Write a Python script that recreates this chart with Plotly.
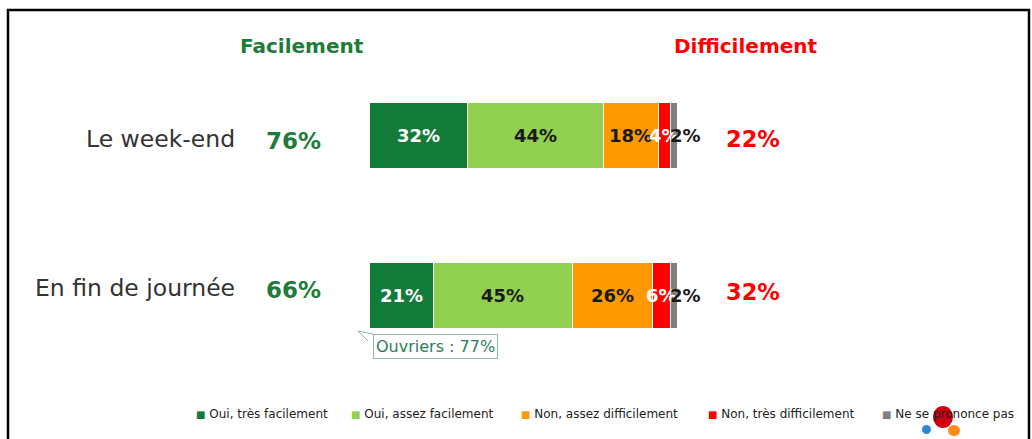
import plotly.graph_objects as go

# Données
categories = ['En fin de journée', 'Le week-end']
series = ['Oui, très facilement', 'Oui, assez facilement', 'Non, assez difficilement',
          'Non, très difficilement', 'Ne se prononce pas']
tres_facile = [21, 32]
assez_facile = [45, 44]
assez_difficile = [26, 18]
tres_difficile = [6, 4]
nsp = [2, 2]

couleurs = ['#137B3A', '#92D050', '#FF9900', '#FF0000', '#808080']
couleurs_txt = ['white', '#1a1a1a', '#1a1a1a', 'white', '#1a1a1a']
valeurs = [tres_facile, assez_facile, assez_difficile, tres_difficile, nsp]

W, H = 1032, 439
FONT = 'DejaVu Sans'


def py(pix):
    # position verticale en pixels -> coordonnée papier
    return 1 - pix / H


fig = go.Figure()
for nom, vals, col in zip(series, valeurs, couleurs):
    fig.add_trace(go.Bar(
        y=categories, x=vals, name=nom, orientation='h',
        marker=dict(color=col, line=dict(color='white', width=1)),
        width=0.41, hoverinfo='x+name', showlegend=False,
    ))

annotations = []
# position (pixels) des libellés de ligne : fin de journée, week-end
lib_y = [288, 139]
pct_f_y = [290, 141]
pct_d_y = [292, 139]
for i, cat in enumerate(categories):
    cumul = 0
    for k, vals in enumerate(valeurs):
        v = vals[i]
        xs = 12 if k == len(valeurs) - 1 else 0
        annotations.append(dict(
            x=cumul + v / 2, y=cat, xref='x', yref='y', text=f'{v}%', showarrow=False,
            xanchor='center', yanchor='middle', xshift=xs,
            font=dict(family=FONT, size=18, color=couleurs_txt[k], weight='bold'),
        ))
        cumul += v
    facile = tres_facile[i] + assez_facile[i]
    difficile = assez_difficile[i] + tres_difficile[i]
    annotations.append(dict(x=237 / W, y=py(lib_y[i]), xref='paper', yref='paper', xanchor='right',
                            yanchor='middle', text=cat, showarrow=False,
                            font=dict(family=FONT, size=23.5, color='#333333')))
    annotations.append(dict(x=293 / W, y=py(pct_f_y[i]), xref='paper', yref='paper', text=f'{facile}%',
                            showarrow=False, xanchor='center', yanchor='middle',
                            font=dict(family=FONT, size=23, color='#1E7B3A', weight='bold')))
    annotations.append(dict(x=753 / W, y=py(pct_d_y[i]), xref='paper', yref='paper', text=f'{difficile}%',
                            showarrow=False, xanchor='center', yanchor='middle',
                            font=dict(family=FONT, size=22.5, color='#FF0000', weight='bold')))

annotations += [
    dict(x=302 / W, y=py(46), xref='paper', yref='paper', text='Facilement', showarrow=False,
         xanchor='center', yanchor='middle',
         font=dict(family=FONT, size=20, color='#1E7B3A', weight='bold')),
    dict(x=746 / W, y=py(46), xref='paper', yref='paper', text='Difficilement', showarrow=False,
         xanchor='center', yanchor='middle',
         font=dict(family=FONT, size=20, color='#FF0000', weight='bold')),
    dict(x=435.5 / W, y=py(346), xref='paper', yref='paper', text='Ouvriers : 77%', showarrow=False,
         xanchor='center', yanchor='middle',
         font=dict(family=FONT, size=16, color='#2E7D5B'), bordercolor='#8FB5A5', borderwidth=1,
         borderpad=2, bgcolor='white'),
]

# légende
leg_x = [194, 349, 519, 706, 880]
for nom, col, lx in zip(series, couleurs, leg_x):
    annotations.append(dict(
        x=lx / W, y=py(414), xref='paper', yref='paper', xanchor='left', yanchor='middle',
        showarrow=False,
        text=f"<span style='color:{col};font-size:10px'>■</span> {nom}",
        font=dict(family=FONT, size=12, color='#222222'),
    ))

shapes = [
    # cadre
    dict(type='rect', xref='paper', yref='paper', x0=8 / W, x1=1029 / W, y0=-0.2, y1=py(10),
         line=dict(color='black', width=2.5)),
    # pointe de la bulle
    dict(type='path', xref='paper', yref='paper',
         path=f'M {368 / W} {py(341)} L {358 / W} {py(331)} L {373 / W} {py(334)}',
         line=dict(color='#8FB5A5', width=1)),
    # logo
    dict(type='circle', xref='paper', yref='paper', x0=933 / W, x1=953 / W, y0=py(428), y1=py(406),
         fillcolor='#D00010', line=dict(width=0), layer='below'),
    dict(type='circle', xref='paper', yref='paper', x0=948 / W, x1=960 / W, y0=py(436), y1=py(425),
         fillcolor='#FF8C1A', line=dict(width=0)),
    dict(type='circle', xref='paper', yref='paper', x0=922 / W, x1=931 / W, y0=py(434), y1=py(425),
         fillcolor='#2A8AD8', line=dict(width=0)),
]

px_unit = 3.08
fig.update_layout(
    barmode='stack', width=W, height=H,
    margin=dict(l=0, r=0, t=0, b=0),
    paper_bgcolor='white', plot_bgcolor='white',
    xaxis=dict(range=[-369 / px_unit, (W - 369) / px_unit], visible=False, fixedrange=True),
    yaxis=dict(range=[-(439 - 295.5) / 160, 1 + 135.5 / 160], visible=False, fixedrange=True),
    annotations=annotations, shapes=shapes, showlegend=False,
)

fig.write_html('out.html', config={'displayModeBar': False},
               post_script="document.body.style.margin='0';document.body.style.overflow='hidden';")
